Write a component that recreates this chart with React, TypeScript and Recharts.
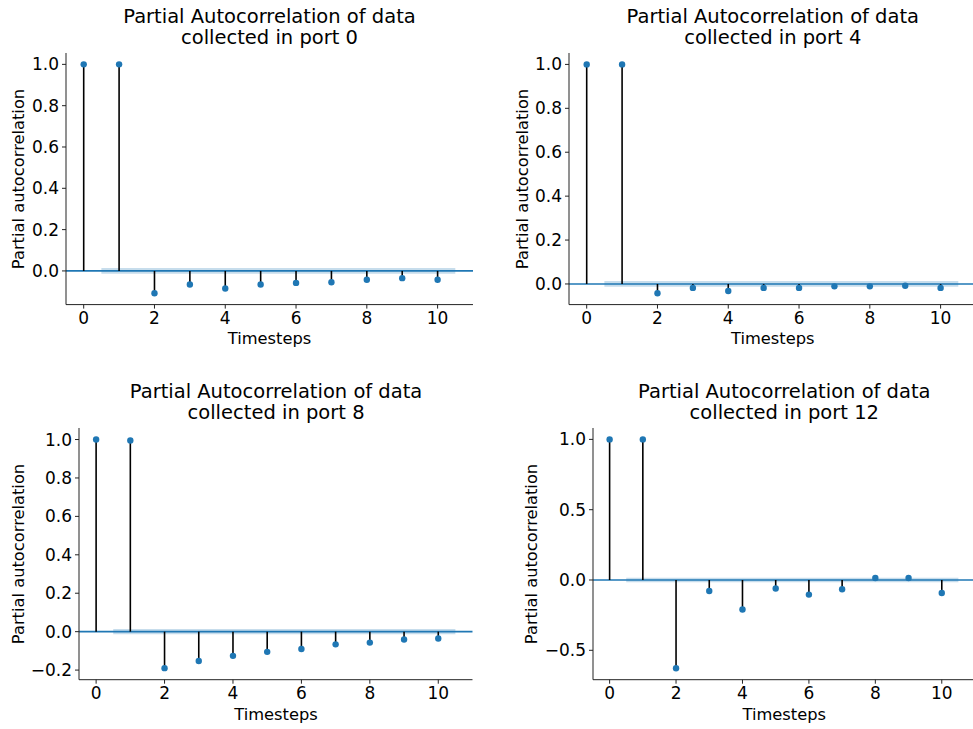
import React from 'react';
import {
  ScatterChart,
  Scatter,
  XAxis,
  YAxis,
  ReferenceLine,
  ReferenceArea,
} from 'recharts';

const lags = [0, 1, 2, 3, 4, 5, 6, 7, 8, 9, 10];

const pacfPort0 = [1.0, 1.0, -0.108, -0.066, -0.085, -0.066, -0.058, -0.055, -0.043, -0.035, -0.043];
const pacfPort4 = [1.0, 1.0, -0.042, -0.018, -0.032, -0.018, -0.018, -0.011, -0.011, -0.008, -0.018];
const pacfPort8 = [1.0, 0.995, -0.19, -0.153, -0.126, -0.105, -0.09, -0.066, -0.057, -0.041, -0.036];
const pacfPort12 = [1.0, 1.0, -0.628, -0.078, -0.21, -0.061, -0.104, -0.066, 0.014, 0.014, -0.092];

// 95% confidence half-width around zero
const confPort0 = 0.014;
const confPort4 = 0.013;
const confPort8 = 0.014;
const confPort12 = 0.016;

const xTicks = [0, 2, 4, 6, 8, 10];
const yTicksFine = [0, 0.2, 0.4, 0.6, 0.8, 1.0];
const yTicksPort8 = [-0.2, 0, 0.2, 0.4, 0.6, 0.8, 1.0];
const yTicksPort12 = [-0.5, 0, 0.5, 1.0];

const FONT = '"DejaVu Sans", sans-serif';
const C0 = '#1f77b4';
const Y_AXIS_W = 60;
const X_AXIS_H = 40;
const TOP_PAD = 10;

const fmt = (v: number) => v.toFixed(1).replace('-', '\u2212');

interface PanelProps {
  port: number;
  values: number[];
  conf: number;
  yDomain: [number, number];
  yTicks: number[];
  left: number;
  top: number;
  width: number;
  height: number;
  yLabelX: number;
}

function PacfPanel({ port, values, conf, yDomain, yTicks, left, top, width, height, yLabelX }: PanelProps) {
  const data = lags.map((lag, i) => ({ lag, value: values[i] }));
  const cx = left + width / 2;
  const text = { position: 'absolute' as const, color: '#000', whiteSpace: 'nowrap' as const };

  return (
    <>
      <div style={{ ...text, left: cx - 200, width: 400, top: top - 47, textAlign: 'center', fontSize: 19.5, lineHeight: '21px' }}>
        Partial Autocorrelation of data
        <br />
        collected in port {port}
      </div>
      <div style={{ ...text, left: cx - 100, width: 200, top: top + height + 24, textAlign: 'center', fontSize: 16.3, lineHeight: '22px' }}>
        Timesteps
      </div>
      <div
        style={{
          ...text,
          left: yLabelX - 150,
          width: 300,
          top: top + height / 2 - 11,
          textAlign: 'center',
          fontSize: 16.3,
          lineHeight: '22px',
          transform: 'rotate(-90deg)',
        }}
      >
        Partial autocorrelation
      </div>
      <div style={{ position: 'absolute', left: left - Y_AXIS_W, top: top - TOP_PAD }}>
        <ScatterChart
          width={width + Y_AXIS_W + 2}
          height={height + TOP_PAD + X_AXIS_H}
          margin={{ top: TOP_PAD, right: 2, bottom: 0, left: 0 }}
          style={{ fontFamily: FONT }}
        >
          <XAxis
            dataKey="lag"
            type="number"
            domain={[-0.5, 11]}
            ticks={xTicks}
            allowDataOverflow
            height={X_AXIS_H}
            tickSize={4}
            tickMargin={3}
            stroke="#222"
            tick={{ fill: '#000', fontSize: 17 }}
            axisLine={{ stroke: '#222', strokeWidth: 1 }}
          />
          <YAxis
            dataKey="value"
            type="number"
            domain={yDomain}
            ticks={yTicks}
            allowDataOverflow
            width={Y_AXIS_W}
            tickSize={4}
            tickMargin={3}
            tickFormatter={fmt}
            stroke="#222"
            tick={{ fill: '#000', fontSize: 17 }}
            axisLine={{ stroke: '#222', strokeWidth: 1 }}
          />
          <ReferenceArea x1={0.5} x2={10.5} y1={-conf} y2={conf} fill={C0} fillOpacity={0.25} stroke="none" ifOverflow="hidden" />
          <ReferenceLine y={0} stroke={C0} strokeWidth={1.6} />
          {data.map((d) => (
            <ReferenceLine
              key={d.lag}
              segment={[
                { x: d.lag, y: 0 },
                { x: d.lag, y: d.value },
              ]}
              stroke="#000"
              strokeWidth={1.6}
            />
          ))}
          <Scatter
            data={data}
            isAnimationActive={false}
            shape={(p: any) => <circle cx={p.cx} cy={p.cy} r={3.2} fill={C0} />}
          />
        </ScatterChart>
      </div>
    </>
  );
}

export default function App() {
  return (
    <div
      style={{
        position: 'absolute',
        left: 0,
        top: 0,
        width: 973,
        height: 729,
        overflow: 'hidden',
        background: '#fff',
        fontFamily: FONT,
      }}
    >
      <PacfPanel port={0} values={pacfPort0} conf={confPort0} yDomain={[-0.163, 1.055]} yTicks={yTicksFine}
        left={66} top={52.7} width={407} height={251.6} yLabelX={19} />
      <PacfPanel port={4} values={pacfPort4} conf={confPort4} yDomain={[-0.094, 1.052]} yTicks={yTicksFine}
        left={569.3} top={52.7} width={407} height={251.6} yLabelX={523} />
      <PacfPanel port={8} values={pacfPort8} conf={confPort8} yDomain={[-0.25, 1.06]} yTicks={yTicksPort8}
        left={79.3} top={428.3} width={393.5} height={251.7} yLabelX={19} />
      <PacfPanel port={12} values={pacfPort12} conf={confPort12} yDomain={[-0.709, 1.081]} yTicks={yTicksPort12}
        left={593.3} top={428.3} width={382} height={251.7} yLabelX={531.5} />
    </div>
  );
}
